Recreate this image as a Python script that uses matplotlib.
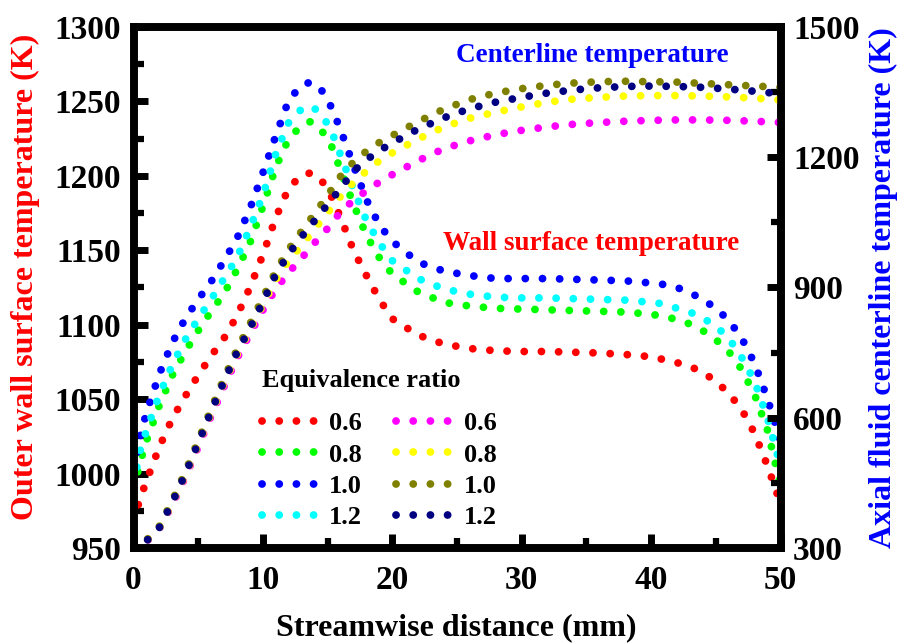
import matplotlib
matplotlib.use("Agg")
import matplotlib.pyplot as plt
from matplotlib.ticker import MultipleLocator

plt.rcParams["font.family"] = ["Liberation Serif", "DejaVu Serif"]
plt.rcParams["font.weight"] = "bold"

# wall surface temperature (left axis)
x_wall = [0, 0.5, 1, 2, 3, 4, 5, 6, 7, 8, 9, 10, 11, 12, 13, 13.7, 14.5, 15.3, 16, 17, 18, 19, 20,
          22, 24, 26, 28, 30, 32, 34, 36, 38, 40, 41, 42, 43, 44, 45, 46, 47, 48, 49, 50]
wall_06 = [968, 983, 995, 1018, 1037, 1052, 1066, 1079, 1091, 1106, 1125, 1147, 1172, 1192, 1200.5, 1202,
           1197.5, 1186, 1172, 1150, 1133, 1117, 1104, 1093, 1087, 1084, 1082.5, 1082, 1082, 1081.5, 1081,
           1080, 1078.5, 1076.5, 1074.5, 1072, 1068, 1062, 1054, 1043, 1027, 1005, 980]
wall_08 = [990, 1007, 1022, 1046, 1066, 1082, 1096, 1109, 1121, 1137, 1155, 1179.5, 1206, 1225, 1234, 1236.5,
           1231, 1220, 1204, 1181, 1160, 1145, 1134, 1122, 1115, 1112.5, 1111, 1110.5, 1110, 1109.5, 1109,
           1108.5, 1107, 1105.5, 1103.5, 1100.5, 1096, 1090, 1082, 1070, 1053, 1029, 992]
wall_10 = [1003, 1024, 1041, 1067, 1088, 1104, 1117, 1129, 1143, 1158, 1178, 1202, 1227, 1251, 1261, 1263,
           1258, 1246, 1231, 1207, 1184, 1167, 1156, 1142, 1136, 1133, 1131, 1131, 1131, 1130.5, 1130,
           1129.5, 1128, 1127, 1125, 1121.5, 1117, 1111, 1103, 1091, 1074, 1050, 1022]
wall_12 = [993, 1015, 1029, 1053, 1073, 1090, 1104, 1117, 1131, 1145, 1165, 1187, 1215, 1236, 1245, 1247,
           1242, 1230, 1214, 1191, 1170, 1155, 1143, 1131, 1124, 1120.5, 1118.5, 1118, 1118, 1117.5, 1117,
           1116.5, 1115, 1114, 1111, 1108.5, 1104.5, 1099, 1091, 1078, 1062, 1037, 1005]

# axial fluid centerline temperature (right axis)
x_center = [0, 0.5, 1, 2, 3, 4, 5, 6, 7, 8, 9, 10, 11, 12, 13, 14, 15, 16, 17, 18, 19, 20,
            22, 24, 26, 28, 30, 32, 34, 36, 38, 40, 42, 44, 46, 48, 50]
center_06 = [300, 304, 315, 345, 400, 463, 533, 604, 672, 737, 793, 848, 897, 935, 968, 1003, 1036, 1074,
             1101, 1123, 1143, 1160, 1192, 1220, 1238, 1252, 1262, 1270, 1276, 1280, 1283, 1285, 1286,
             1286, 1285, 1283, 1280]
center_08 = [300, 304, 316, 346, 403, 467, 538, 610, 680, 745, 802, 860, 918, 962, 997, 1035, 1072, 1110,
             1142, 1168, 1192, 1210, 1242, 1270, 1290, 1304, 1316, 1327, 1334, 1338, 1341, 1342, 1342,
             1341, 1339, 1336, 1332]
center_10 = [300, 305, 318, 350, 409, 475, 547, 620, 691, 757, 816, 876, 938, 988, 1030, 1070, 1112, 1156,
             1189, 1214, 1234, 1250, 1282, 1311, 1333, 1348, 1358, 1366, 1371, 1374, 1375, 1374, 1373,
             1370, 1367, 1364, 1361]
center_12 = [300, 302, 316, 347, 405, 470, 541, 614, 684, 750, 806, 866, 930, 977, 1017, 1054, 1091, 1128,
             1168, 1194, 1215, 1233, 1265, 1291, 1312, 1327, 1338, 1348, 1355, 1360, 1363, 1364, 1363,
             1361, 1357, 1352, 1346]

ratios = ["0.6", "0.8", "1.0", "1.2"]
wall_series = [wall_06, wall_08, wall_10, wall_12]
center_series = [center_06, center_08, center_10, center_12]
wall_colors = ["#ff0000", "#00ff00", "#0000ff", "#00ffff"]
center_colors = ["#ff00ff", "#ffff00", "#808000", "#000080"]

W, H = 899, 643
fig = plt.figure(figsize=(W / 100, H / 100), dpi=100)
ax = fig.add_axes([133.5 / W, 1 - 548 / H, 647 / W, 521 / H])
ax2 = ax.twinx()

# dotted lines: round caps on near-zero dashes give evenly spaced dots
dot = dict(lw=5.6, ls=(0, (0.01, 2.2)), dash_capstyle="round")
handles = []
for y, c, r in zip(wall_series, wall_colors, ratios):
    h, = ax.plot(x_wall, y, color=c, label=r, **dot)
    handles.append(h)
for y, c, r in zip(center_series, center_colors, ratios):
    h, = ax2.plot(x_center, y, color=c, label=r, **dot)
    handles.append(h)

ax.set_xlim(0, 50)
ax.set_ylim(950, 1300)
ax2.set_ylim(300, 1500)
ax.xaxis.set_major_locator(MultipleLocator(10))
ax.xaxis.set_minor_locator(MultipleLocator(5))
ax.yaxis.set_major_locator(MultipleLocator(50))
ax.yaxis.set_minor_locator(MultipleLocator(25))
ax2.yaxis.set_major_locator(MultipleLocator(300))
ax2.yaxis.set_minor_locator(MultipleLocator(150))

for a in (ax, ax2):
    for s in a.spines.values():
        s.set_linewidth(5.5)
    a.tick_params(which="major", direction="in", length=10, width=5, labelsize=24)
    a.tick_params(which="minor", direction="in", length=7, width=4.5)
ax.tick_params(axis="x", which="both", top=False, pad=12)
ax.tick_params(axis="y", which="both", right=False, pad=9)
ax2.tick_params(axis="y", which="both", left=False, pad=9)

fig.text(456 / W, 1 - 628 / H, "Streamwise distance (mm)", ha="center", va="center", fontsize=23)
fig.text(25 / W, 1 - 277 / H, "Outer wall surface temperature (K)", rotation=90,
         ha="center", va="center", fontsize=23, color="#ff0000")
fig.text(883 / W, 1 - 288 / H, "Axial fluid centerline temperature (K)", rotation=90,
         ha="center", va="center", fontsize=23, color="#0000ff")

ax.text(0.709, 0.946, "Centerline temperature", transform=ax.transAxes, ha="center", va="center",
        fontsize=19.5, color="#0000ff")
ax.text(0.708, 0.585, "Wall surface temperature", transform=ax.transAxes, ha="center", va="center",
        fontsize=19.5, color="#ff0000")

fig.text(262 / W, 1 - 381 / H, "Equivalence ratio", ha="left", va="center", fontsize=19)
leg = ax2.legend(handles=handles, ncol=2, frameon=False, fontsize=19,
                 loc="upper left", bbox_to_anchor=(0.1694, 0.297), handlelength=2.2,
                 handletextpad=0.36, columnspacing=1.29, labelspacing=0.3, borderpad=0.2)

fig.savefig("out.png", dpi=100)
